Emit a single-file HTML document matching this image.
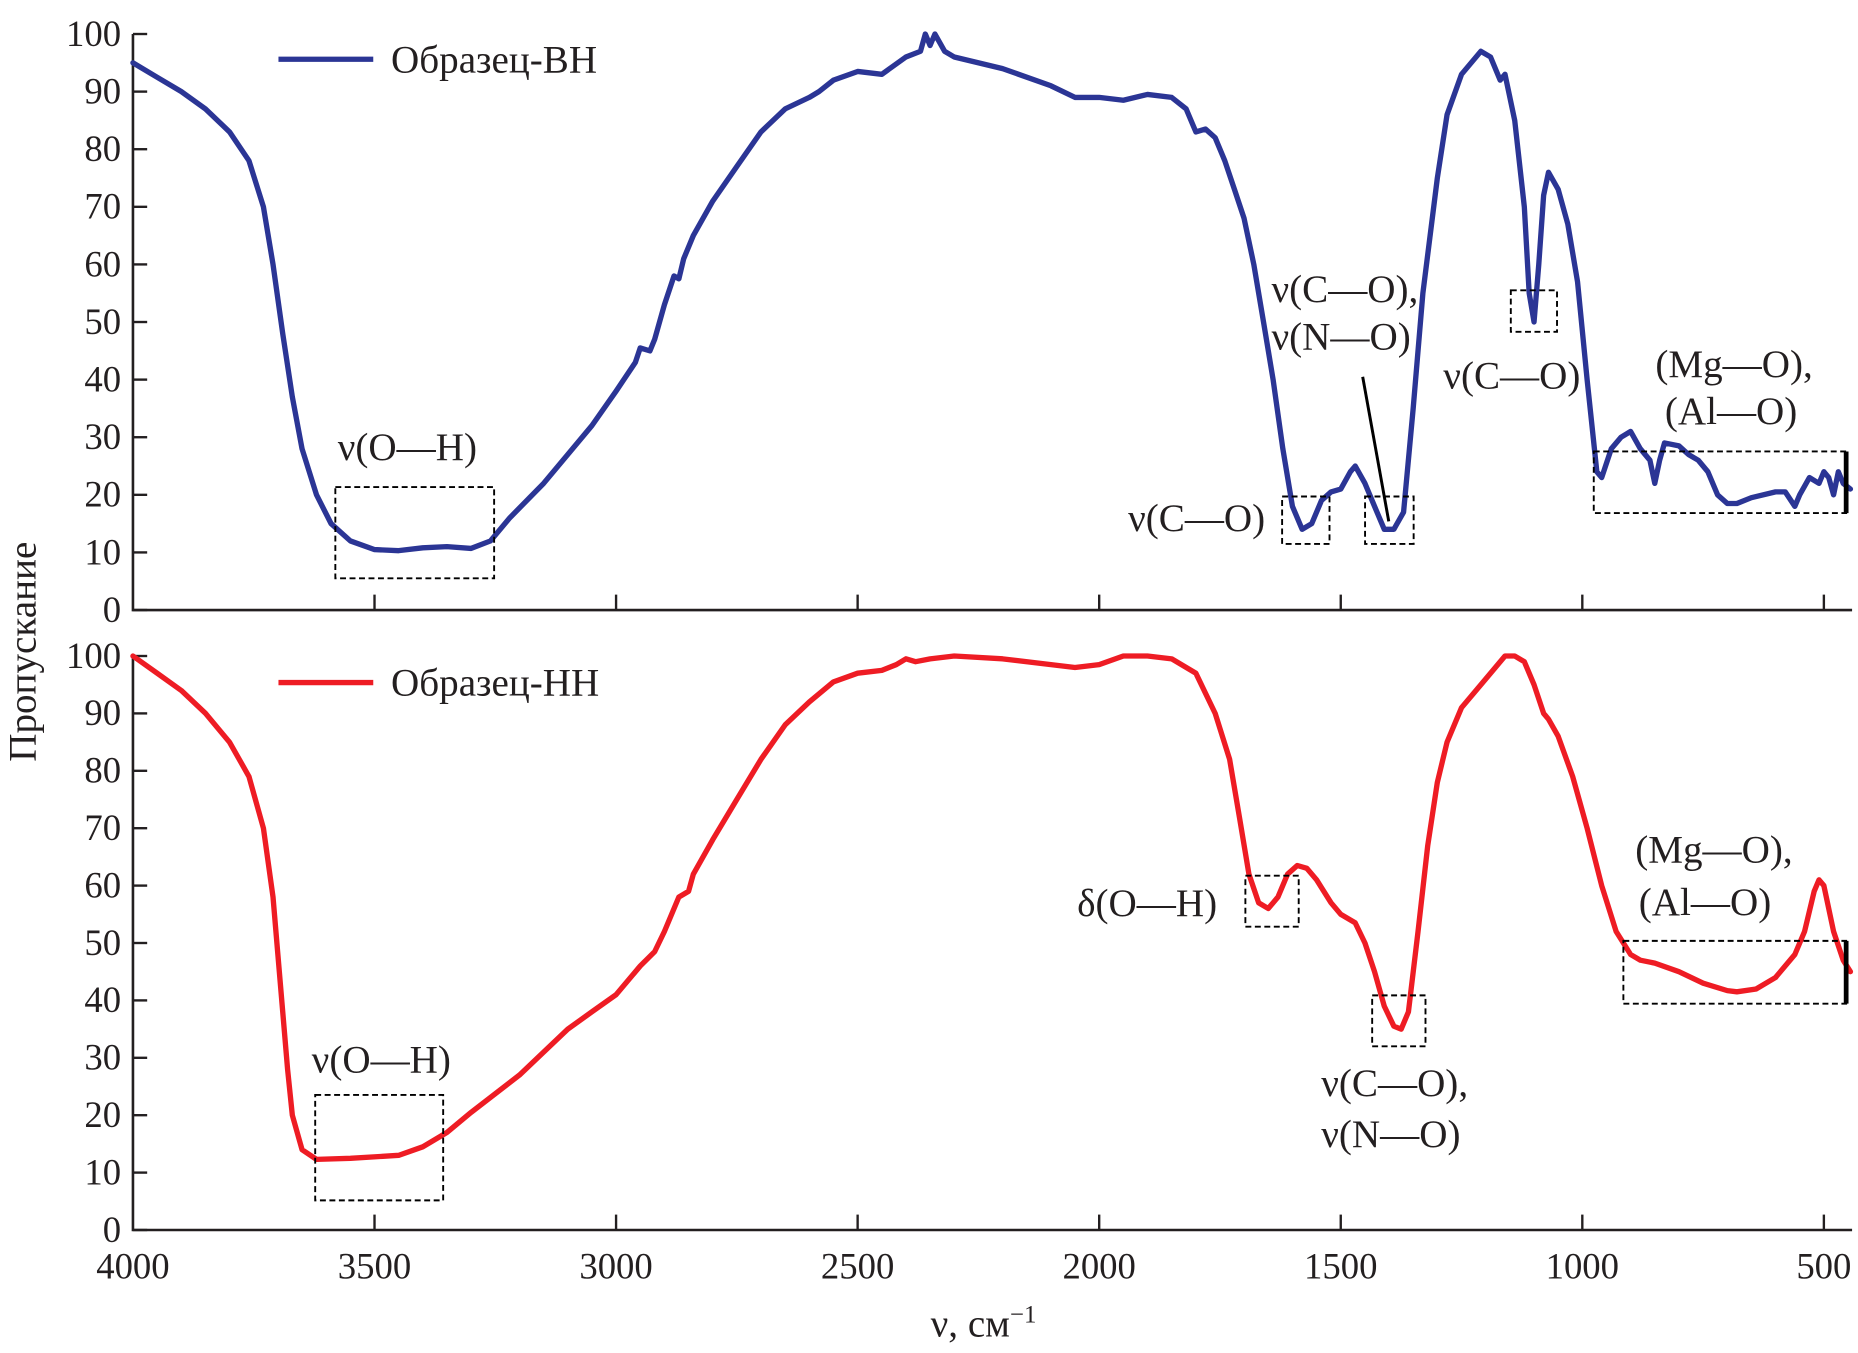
<!DOCTYPE html>
<html><head><meta charset="utf-8"><style>
html,body{margin:0;padding:0;background:#fff}
svg{display:block}
text{font-family:"Liberation Serif",serif;fill:#231f20}
</style></head><body>
<svg id="chart" width="1858" height="1353" viewBox="0 0 1568 1141.8" preserveAspectRatio="none" xmlns="http://www.w3.org/2000/svg">
<g id="axes"></g>
<g id="series"></g>
<g id="notes" fill="none" stroke="#000" stroke-width="1.6" stroke-dasharray="5,3">
<rect x="283" y="411" width="134" height="77"/>
<rect x="1082" y="419" width="40" height="40"/>
<rect x="1152" y="419" width="41" height="40"/>
<rect x="1275" y="245" width="39" height="35"/>
<rect x="1345" y="381" width="213" height="52"/>
<rect x="266" y="924" width="108" height="89"/>
<rect x="1051" y="739" width="45" height="43"/>
<rect x="1158" y="840" width="45" height="43"/>
<rect x="1370" y="794" width="188" height="53"/>
</g>
<g stroke="#000" stroke-width="4">
<line x1="1558" y1="381" x2="1558" y2="433"/>
<line x1="1558" y1="794" x2="1558" y2="847"/>
</g>
<line x1="1150" y1="318" x2="1172" y2="440" stroke="#000" stroke-width="2.5"/>
<g font-size="33">
<text x="285" y="388">ν(O—H)</text>
<text x="1073" y="255">ν(C—O),</text>
<text x="1073" y="295">ν(N—O)</text>
<text x="952" y="448">ν(C—O)</text>
<text x="1218" y="328">ν(C—O)</text>
<text x="1397" y="318">(Mg—O),</text>
<text x="1405" y="358">(Al—O)</text>
<text x="263" y="905">ν(O—H)</text>
<text x="909" y="773">δ(O—H)</text>
<text x="1115" y="925">ν(C—O),</text>
<text x="1115" y="968">ν(N—O)</text>
<text x="1380" y="728">(Mg—O),</text>
<text x="1383" y="772">(Al—O)</text>
<line x1="235" y1="50" x2="315" y2="50" stroke="#2b3595" stroke-width="4.5"/>
<text x="330" y="61">Образец-ВН</text>
<line x1="235" y1="576" x2="315" y2="576" stroke="#ee1c24" stroke-width="4.5"/>
<text x="330" y="587">Образец-НН</text>
<text transform="translate(30,550) rotate(-90)" text-anchor="middle">Пропускание</text>
<text x="830" y="1128" text-anchor="middle">ν, см<tspan font-size="21" dy="-12">−1</tspan></text>
</g>
</svg>
<script>
const xTicks=[4000,3500,3000,2500,2000,1500,1000,500];
const yTicks=[0,10,20,30,40,50,60,70,80,90,100];
const bhWave=[4000,3950,3900,3850,3800,3760,3730,3710,3690,3670,3650,3620,3590,3550,3500,3450,3400,3350,3300,3260,3220,3150,3100,3050,3000,2960,2950,2930,2920,2900,2880,2870,2860,2840,2800,2750,2700,2650,2600,2580,2550,2500,2450,2400,2370,2360,2350,2340,2320,2300,2200,2100,2050,2000,1950,1900,1850,1820,1800,1780,1760,1740,1720,1700,1680,1660,1640,1620,1600,1580,1560,1540,1520,1500,1480,1470,1450,1430,1410,1390,1370,1350,1330,1300,1280,1250,1210,1190,1170,1160,1140,1120,1110,1100,1090,1080,1070,1050,1030,1010,990,970,960,940,920,900,880,860,850,840,830,800,780,760,740,720,700,680,650,600,580,560,550,530,510,500,490,480,470,460,445];
const bhValues=[95,92.5,90,87,83,78,70,60,48,37,28,20,15,12,10.5,10.3,10.8,11,10.7,12,16,22,27,32,38,43,45.5,45,47,53,58,57.5,61,65,71,77,83,87,89,90,92,93.5,93,96,97,100,98,100,97,96,94,91,89,89,88.5,89.5,89,87,83,83.5,82,78,73,68,60,50,40,28,18,14,15,19,20.5,21,24,25,22,18,14,14,17,35,55,75,86,93,97,96,92,93,85,70,55,50,60,72,76,73,67,57,40,24,23,28,30,31,28,26,22,26,29,28.5,27,26,24,20,18.5,18.5,19.5,20.5,20.5,18,20,23,22,24,23,20,24,22,21];
const hhWave=[4000,3950,3900,3850,3800,3760,3730,3710,3700,3690,3680,3670,3650,3620,3550,3450,3400,3350,3300,3200,3150,3100,3050,3000,2950,2920,2900,2870,2850,2840,2800,2750,2700,2650,2600,2550,2500,2450,2420,2400,2380,2350,2300,2200,2100,2050,2000,1950,1900,1850,1800,1760,1730,1710,1690,1670,1650,1630,1610,1590,1570,1550,1520,1500,1470,1450,1430,1410,1390,1375,1360,1340,1320,1300,1280,1250,1200,1160,1140,1120,1100,1080,1070,1050,1020,990,960,930,900,880,850,800,750,700,680,640,600,560,540,520,510,500,480,460,445];
const hhValues=[100,97,94,90,85,79,70,58,48,38,28,20,14,12.3,12.5,13,14.5,17,20.5,27,31,35,38,41,46,48.5,52,58,59,62,68,75,82,88,92,95.5,97,97.5,98.5,99.5,99,99.5,100,99.5,98.5,98,98.5,100,100,99.5,97,90,82,72,62,57,56,58,62,63.5,63,61,57,55,53.5,50,45,39,35.5,35,38,52,67,78,85,91,96,100,100,99,95,90,89,86,79,70,60,52,48,47,46.5,45,43,41.7,41.5,42,44,48,52,59,61,60,52,47,45];

const NS='http://www.w3.org/2000/svg';
const X0=112.2, X500=1539.2, XEND=1563;
const xs=w=>X0+(4000-w)*(X500-X0)/3500;
const panels=[{y100:28.7,y0:514.8},{y100:553.6,y0:1038}];
const ys=(p,v)=>p.y0+(p.y100-p.y0)*v/100;
function mk(tag,attrs,parent){const e=document.createElementNS(NS,tag);for(const k in attrs)e.setAttribute(k,attrs[k]);parent.appendChild(e);return e;}
const axes=document.getElementById('axes');
panels.forEach((p,i)=>{
  const ax=mk('path',{d:`M${X0},${p.y100} V${p.y0} H${XEND}`,fill:'none',stroke:'#231f20','stroke-width':2.2},axes);
  
  
  yTicks.forEach(t=>{
    const y=ys(p,t);
    const tl=mk('line',{x1:X0,x2:X0+12,y1:y,y2:y,stroke:'#231f20','stroke-width':2},axes);
    
    
    const tx=mk('text',{x:X0-10,y:y+10,'text-anchor':'end','font-size':31},axes);
    tx.textContent=t;
    
    
  });
  xTicks.forEach(t=>{
    if(t===4000)return;
    const x=xs(t);
    const tl=mk('line',{x1:x,x2:x,y1:p.y0,y2:p.y0-13,stroke:'#231f20','stroke-width':2},axes);
    
    
  });
});
xTicks.forEach(t=>{
  const tx=mk('text',{x:xs(t),y:1079,'text-anchor':'middle','font-size':31},axes);
  tx.textContent=t;
  
  
});
const series=document.getElementById('series');
function line(wave,vals,p,color,name){
  const pts=wave.map((w,i)=>xs(w).toFixed(1)+','+ys(p,vals[i]).toFixed(1)).join(' ');
  const pl=mk('polyline',{points:pts,fill:'none',stroke:color,'stroke-width':4.5,'stroke-linejoin':'round','stroke-linecap':'round'},series);
  
  
}
line(bhWave,bhValues,panels[0],'#2b3595','series-bh');
line(hhWave,hhValues,panels[1],'#ee1c24','series-hh');
</script>
</body></html>
